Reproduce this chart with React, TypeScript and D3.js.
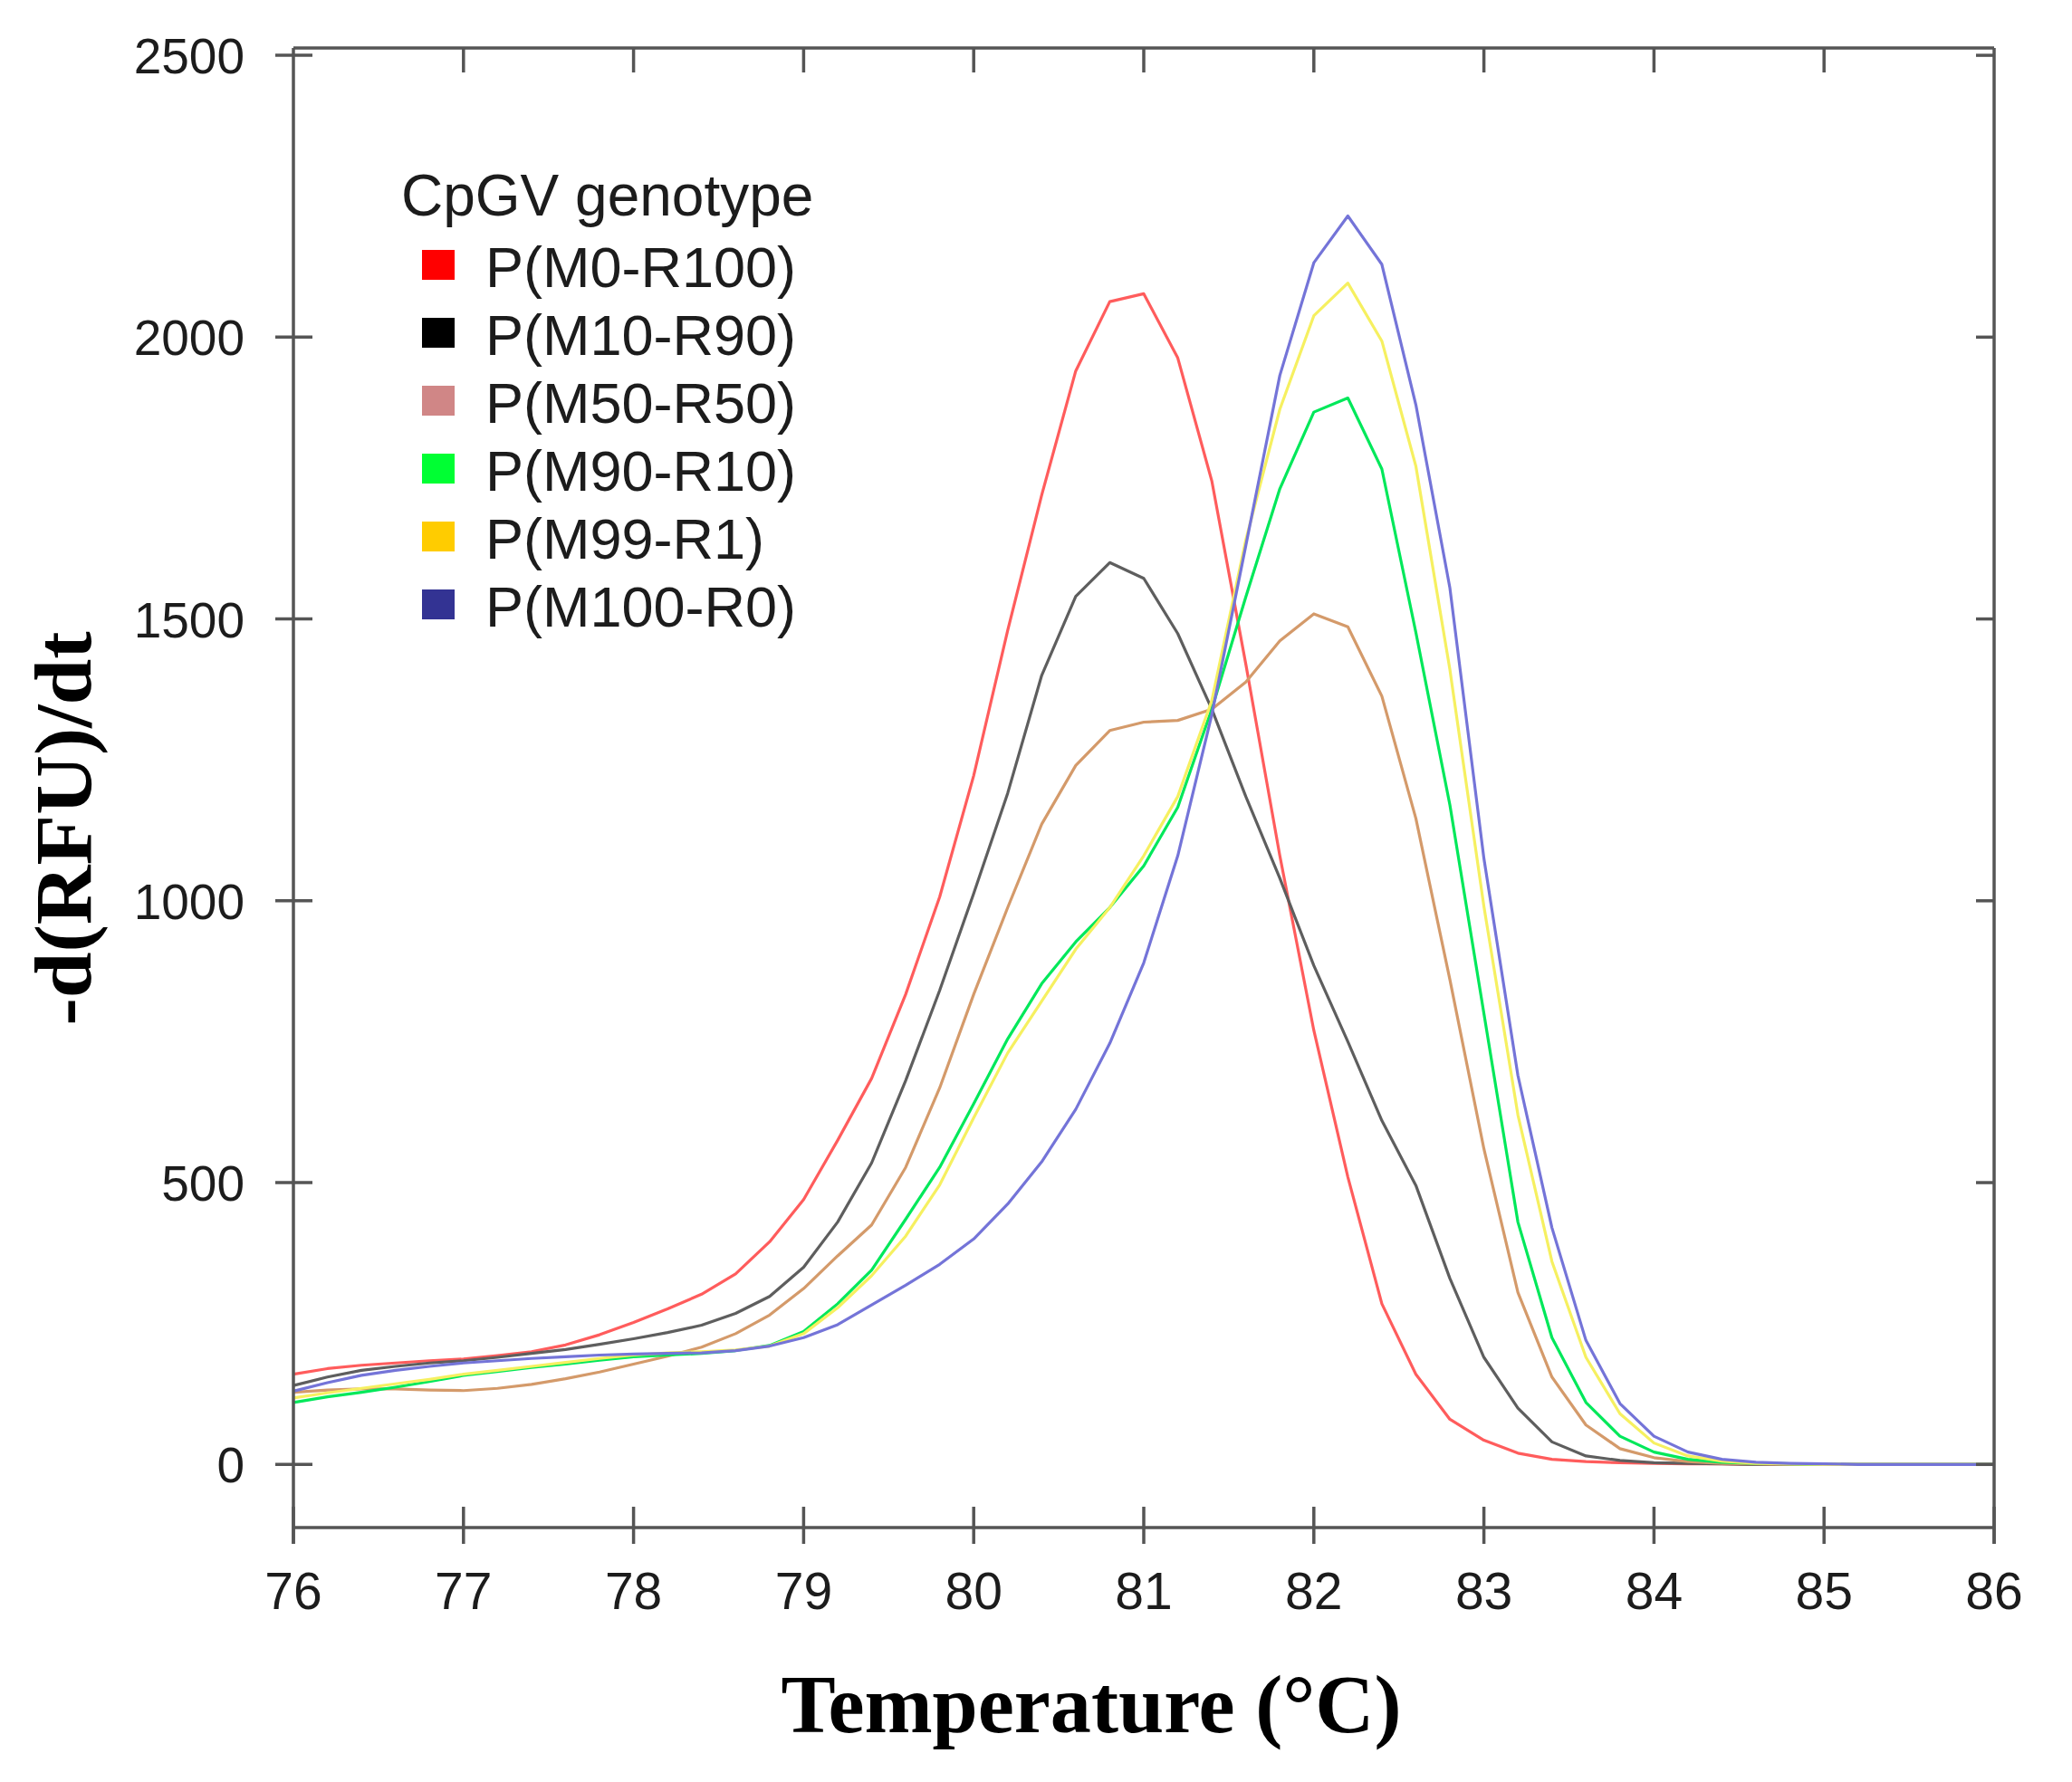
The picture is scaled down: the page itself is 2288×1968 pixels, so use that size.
import { useEffect, useRef } from 'react';
import * as d3 from 'd3';

const WIDTH = 2288;
const HEIGHT = 1968;

// sampling grid of the melt curve (°C)
const temps = [
  76.0, 76.2, 76.4, 76.6, 76.8, 77.0, 77.2, 77.4, 77.6, 77.8,
  78.0, 78.2, 78.4, 78.6, 78.8, 79.0, 79.2, 79.4, 79.6, 79.8,
  80.0, 80.2, 80.4, 80.6, 80.8, 81.0, 81.2, 81.4, 81.6, 81.8,
  82.0, 82.2, 82.4, 82.6, 82.8, 83.0, 83.2, 83.4, 83.6, 83.8,
  84.0, 84.2, 84.4, 84.6, 84.8, 85.0, 85.2, 85.4, 85.6, 85.8, 86.0,
];

const m0r100 = [
  160, 170, 176, 180, 184, 187, 193, 200, 212, 230,
  252, 276, 302, 338, 395, 470, 575, 685, 834, 1007,
  1222, 1480, 1720, 1940, 2063, 2077, 1963, 1745, 1420, 1080,
  770, 510, 285, 160, 80, 43, 20, 9, 5, 3,
  2, 1, 1, 0, 0, 0, 0, 0, 0, 0, 0,
];

const m10r90 = [
  140, 155, 167, 174, 180, 184, 190, 197, 204, 213,
  223, 234, 247, 268, 298, 350, 430, 535, 681, 841,
  1013, 1191, 1400, 1540, 1600, 1572, 1474, 1340, 1185, 1040,
  885, 750, 610, 495, 330, 190, 100, 40, 15, 7,
  3, 2, 1, 0, 0, 0, 0, 0, 0, 0, 0,
];

const m50r50 = [
  128, 132, 134, 134, 132, 131, 135, 142, 152, 164,
  178, 192, 208, 232, 265, 312, 370, 425, 527, 668,
  834, 988, 1136, 1240, 1302, 1317, 1320, 1340, 1388, 1461,
  1509, 1486, 1363, 1146, 860, 560, 305, 155, 70, 28,
  12, 5, 2, 1, 0, 0, 0, 0, 0, 0, 0,
];

const m90r10 = [
  110, 120, 128, 137, 147, 158, 165, 172, 178, 185,
  191, 194, 197, 202, 211, 236, 285, 345, 435, 527,
  640, 755, 853, 927, 988, 1062, 1166, 1340, 1539, 1731,
  1867, 1892, 1766, 1476, 1170, 800, 430, 225, 110, 50,
  22, 9, 4, 2, 1, 0, 0, 0, 0, 0, 0,
];

const m99r1 = [
  118, 127, 135, 143, 151, 160, 167, 174, 181, 188,
  194, 198, 200, 203, 210, 232, 278, 335, 405, 496,
  615, 730, 822, 914, 988, 1080, 1185, 1355, 1640, 1872,
  2038, 2096, 1993, 1771, 1410, 990, 620, 360, 190, 90,
  38, 15, 6, 2, 1, 0, 0, 0, 0, 0, 0,
];

const m100r0 = [
  130, 145, 158, 167, 174, 180, 184, 188, 191, 194,
  196, 197, 198, 202, 210, 225, 248, 283, 318, 355,
  400, 462, 537, 630, 747, 890, 1080, 1330, 1630, 1932,
  2132, 2215, 2129, 1880, 1555, 1075, 690, 420, 220, 108,
  50, 22, 9, 4, 2, 1, 0, 0, 0, 0, 0,
];

const seriesNames = [
  'P(M0-R100)',
  'P(M10-R90)',
  'P(M50-R50)',
  'P(M90-R10)',
  'P(M99-R1)',
  'P(M100-R0)',
];
const seriesValues = [m0r100, m10r90, m50r50, m90r10, m99r1, m100r0];
const lineColors = ['#ff5c5c', '#5e5e5e', '#d49a6a', '#00e85a', '#f6f060', '#7474d8'];
const swatchColors = ['#ff0000', '#000000', '#d08686', '#00ff33', '#ffcc00', '#333393'];

const xTicks = [76, 77, 78, 79, 80, 81, 82, 83, 84, 85, 86];
const yTicks = [0, 500, 1000, 1500, 2000, 2500];

export default function App() {
  const svgRef = useRef<SVGSVGElement>(null);

  useEffect(() => {
    if (!svgRef.current) return;
    const svg = d3.select(svgRef.current);
    svg.selectAll('*').remove();

    const left = 324, right = 2202, top = 53, bottom = 1687;
    const x = d3.scaleLinear().domain([76, 86]).range([left, right]);
    const y = d3.scaleLinear().domain([-112, 2513]).range([bottom, top]);

    const axisColor = '#555';
    const sans = "'Liberation Sans', Arial, sans-serif";
    const serif = "'Liberation Serif', 'Times New Roman', serif";

    svg.append('rect').attr('width', WIDTH).attr('height', HEIGHT).attr('fill', '#fff');

    // Curves
    const line = d3.line<number>()
      .x((_, i) => x(temps[i]))
      .y(d => y(d));

    seriesValues.forEach((vals, i) => {
      svg.append('path')
        .attr('d', line(vals))
        .attr('fill', 'none')
        .attr('stroke', lineColors[i])
        .attr('stroke-width', 3.2)
        .attr('stroke-linejoin', 'round');
    });

    // Frame
    const frame = svg.append('g').attr('stroke', axisColor).attr('stroke-width', 3.5).attr('fill', 'none');
    frame.append('line').attr('x1', left).attr('y1', top).attr('x2', right).attr('y2', top);
    frame.append('line').attr('x1', left).attr('y1', bottom).attr('x2', right).attr('y2', bottom);
    frame.append('line').attr('x1', left).attr('y1', top).attr('x2', left).attr('y2', bottom + 18);
    frame.append('line').attr('x1', right).attr('y1', top).attr('x2', right).attr('y2', bottom + 18);

    // Y ticks (left crossing, right inward)
    yTicks.forEach(t => {
      frame.append('line').attr('x1', left - 20).attr('x2', left + 21).attr('y1', y(t)).attr('y2', y(t));
      frame.append('line').attr('x1', right - 20).attr('x2', right).attr('y1', y(t)).attr('y2', y(t));
      svg.append('text')
        .attr('x', 270).attr('y', y(t) + 20)
        .attr('text-anchor', 'end')
        .attr('font-family', sans).attr('font-size', 55)
        .attr('fill', '#1c1c1c')
        .text(t);
    });

    // X ticks (bottom crossing, top inward)
    xTicks.forEach(t => {
      frame.append('line').attr('x1', x(t)).attr('x2', x(t)).attr('y1', bottom - 23).attr('y2', bottom + 18);
      if (t > 76 && t < 86) {
        frame.append('line').attr('x1', x(t)).attr('x2', x(t)).attr('y1', top).attr('y2', top + 27);
      }
      svg.append('text')
        .attr('x', x(t)).attr('y', 1777)
        .attr('text-anchor', 'middle')
        .attr('font-family', sans).attr('font-size', 57)
        .attr('fill', '#1c1c1c')
        .text(t);
    });

    // Axis titles
    svg.append('text')
      .attr('x', 1205).attr('y', 1913)
      .attr('text-anchor', 'middle')
      .attr('font-family', serif).attr('font-weight', 'bold').attr('font-size', 92)
      .attr('textLength', 685).attr('lengthAdjust', 'spacingAndGlyphs')
      .attr('fill', '#000')
      .text('Temperature (°C)');

    svg.append('text')
      .attr('transform', 'translate(100,915) rotate(-90)')
      .attr('text-anchor', 'middle')
      .attr('font-family', serif).attr('font-weight', 'bold').attr('font-size', 88)
      .attr('textLength', 435).attr('lengthAdjust', 'spacingAndGlyphs')
      .attr('fill', '#000')
      .text('-d(RFU)/dt');

    // Legend
    const legend = svg.append('g');
    legend.append('text')
      .attr('x', 443).attr('y', 238)
      .attr('font-family', sans).attr('font-size', 64)
      .attr('fill', '#1c1c1c')
      .text('CpGV genotype');

    seriesNames.forEach((name, i) => {
      const base = 317 + i * 75;
      legend.append('rect')
        .attr('x', 466).attr('y', base - 41)
        .attr('width', 36).attr('height', 33)
        .attr('fill', swatchColors[i]);
      legend.append('text')
        .attr('x', 536).attr('y', base)
        .attr('font-family', sans).attr('font-size', 63)
        .attr('fill', '#1c1c1c')
        .text(name);
    });
  }, []);

  return (
    <div style={{ position: 'absolute', left: 0, top: 0, background: '#fff' }}>
      <svg ref={svgRef} width={WIDTH} height={HEIGHT} style={{ display: 'block' }} />
    </div>
  );
}
